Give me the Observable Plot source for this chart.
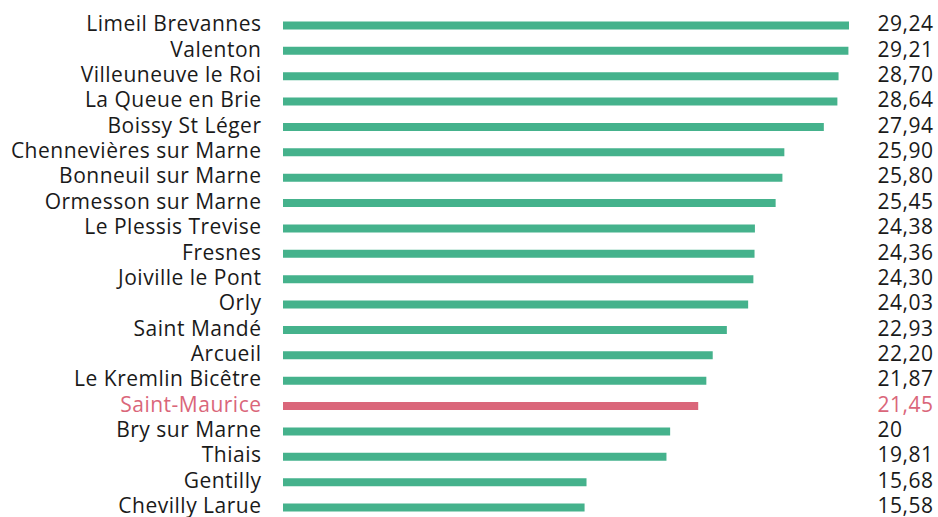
<!DOCTYPE html>
<html>
<head>
<meta charset="utf-8">
<script src="https://cdn.jsdelivr.net/npm/d3@7"></script>
<script src="https://cdn.jsdelivr.net/npm/@observablehq/plot@0.6"></script>
<style>
  html, body { margin: 0; padding: 0; background: #fff; }
  #chart svg { display: block; }
  #chart text { letter-spacing: 0.5px; }
</style>
</head>
<body>
<div id="chart"></div>
<script>
const communes = ["Limeil Brevannes","Valenton","Villeuneuve le Roi","La Queue en Brie","Boissy St Léger","Chennevières sur Marne","Bonneuil sur Marne","Ormesson sur Marne","Le Plessis Trevise","Fresnes","Joiville le Pont","Orly","Saint Mandé","Arcueil","Le Kremlin Bicêtre","Saint-Maurice","Bry sur Marne","Thiais","Gentilly","Chevilly Larue"];
const values = [29.24,29.21,28.70,28.64,27.94,25.90,25.80,25.45,24.38,24.36,24.30,24.03,22.93,22.20,21.87,21.45,20,19.81,15.68,15.58];
const valueLabels = ["29,24","29,21","28,70","28,64","27,94","25,90","25,80","25,45","24,38","24,36","24,30","24,03","22,93","22,20","21,87","21,45","20","19,81","15,68","15,58"];
const highlight = "Saint-Maurice";

const data = communes.map((c, i) => ({commune: c, value: values[i], label: valueLabels[i], hl: c === highlight}));
const GREEN = "#45b28c", RED = "#da667a", INK = "#1a1a1a";
const FONT = "'Open Sans', sans-serif";

const chart = Plot.plot({
  width: 938,
  height: 517,
  marginLeft: 283,
  marginRight: 89,
  marginTop: 25,
  marginBottom: 10,
  style: {fontFamily: FONT, background: "#fff"},
  x: {domain: [0, d3.max(values)], axis: null},
  y: {type: "point", domain: communes, padding: 0, round: false, axis: null},
  marks: [
    Plot.ruleY(data, {y: "commune", x1: 0, x2: "value", stroke: d => d.hl ? RED : GREEN, strokeWidth: 8}),
    Plot.text(data, {y: "commune", frameAnchor: "left", dx: -22, dy: -1, textAnchor: "end", text: "commune",
      fill: d => d.hl ? RED : INK, fontSize: 21, fontWeight: 400}),
    Plot.text(data, {y: "commune", frameAnchor: "right", dx: 28, dy: -1, textAnchor: "start", text: "label",
      fill: d => d.hl ? RED : INK, fontSize: 21, fontWeight: d => d.hl ? 600 : 400})
  ]
});
document.getElementById("chart").appendChild(chart);
</script>
</body>
</html>
